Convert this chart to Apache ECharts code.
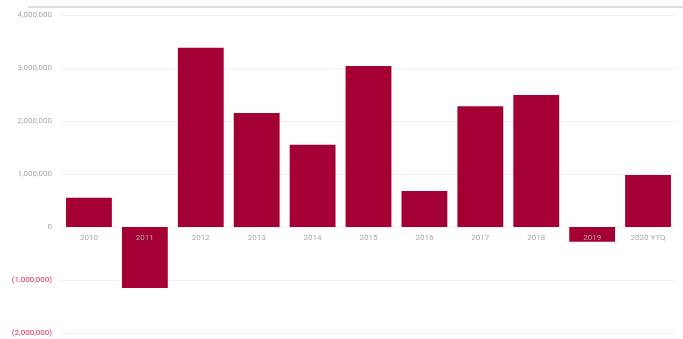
<!DOCTYPE html>
<html>
<head>
<meta charset="utf-8">
<style>
  html, body { margin: 0; padding: 0; background: #fff; }
  #chart { width: 683px; height: 339px; }
</style>
<script src="https://cdn.jsdelivr.net/npm/echarts@6/dist/echarts.min.js"></script>
</head>
<body>
<div id="chart"></div>
<script>
// Annual net values by year
const categories = ['2010', '2011', '2012', '2013', '2014', '2015', '2016', '2017', '2018', '2019', '2020 YTQ'];
const values = [550000, -1150000, 3380000, 2150000, 1550000, 3040000, 680000, 2280000, 2490000, -280000, 980000];
const yTicks = { min: -2000000, max: 4000000, interval: 1000000 };

const chart = echarts.init(document.getElementById('chart'), null, { renderer: 'canvas' });

function formatTick(v) {
  const s = Math.abs(v).toLocaleString('en-US');
  return v < 0 ? '(' + s + ')' : s;
}

const gridTop = 15, gridBottom = 6, height = 339;
// place the category axis on the zero line of the value scale
const plotH = height - gridTop - gridBottom;
const zeroFromBottom = plotH * (0 - yTicks.min) / (yTicks.max - yTicks.min);

chart.setOption({
  animation: false,
  textStyle: { fontFamily: 'Roboto, "Liberation Sans", sans-serif' },
  grid: { left: 61, right: 7, top: gridTop, bottom: gridBottom, containLabel: false, outerBoundsMode: 'none' },
  graphic: [{
    type: 'line',
    shape: { x1: 28, y1: 7, x2: 683, y2: 7 },
    style: { stroke: '#bdbdbd', lineWidth: 1.2 }
  }],
  xAxis: {
    type: 'category',
    data: categories,
    position: 'bottom',
    offset: -zeroFromBottom,
    axisLine: { show: false, onZero: false },
    axisTick: { show: false },
    axisLabel: { color: '#a8a8a8', fontSize: 8, margin: 7 },
    z: 10
  },
  yAxis: {
    type: 'value',
    min: yTicks.min,
    max: yTicks.max,
    interval: yTicks.interval,
    axisLine: { show: false },
    axisTick: { show: false },
    splitLine: { lineStyle: { color: '#f1f1f1', width: 1 } },
    axisLabel: {
      fontSize: 8,
      margin: 9,
      formatter: formatTick,
      color: function (v) { return Number(v) < 0 ? '#d9305a' : '#a8a8a8'; }
    }
  },
  series: [{
    type: 'bar',
    data: values,
    barCategoryGap: '18%',
    itemStyle: { color: '#a50034' },
    z: 2
  }]
});
</script>
</body>
</html>
